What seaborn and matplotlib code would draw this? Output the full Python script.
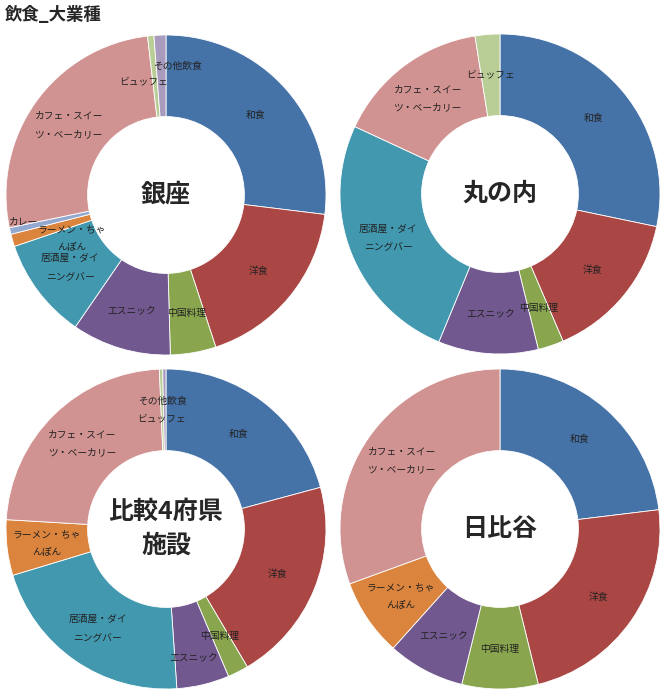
import matplotlib
matplotlib.use("Agg")
import matplotlib.pyplot as plt
import seaborn as sns

sns.set_theme(style="white")
plt.rcParams['font.family'] = ['Noto Sans CJK JP', 'DejaVu Sans']

# categories, clockwise from 12 o'clock
categories = ['和食', '洋食', '中国料理', 'エスニック', '居酒屋・ダイ\nニングバー',
              'ラーメン・ちゃ\nんぽん', 'カレー', 'カフェ・スイー\nツ・ベーカリー',
              'ビュッフェ', 'その他飲食']
colors = ['#4572A7', '#AA4643', '#89A54E', '#71588F', '#4198AF',
          '#DB843D', '#93A9CF', '#D19392', '#B9CD96', '#A99BBD']

# shares (%)
ginza = [26.9, 18.0, 4.6, 10.0, 10.2, 1.25, 0.67, 26.4, 0.64, 1.2]
marunouchi = [28.3, 15.3, 2.6, 10.1, 25.7, 0, 0, 15.6, 2.5, 0]
hikaku = [20.8, 20.7, 2.1, 5.3, 21.4, 5.6, 0, 23.4, 0.33, 0.33]
hibiya = [23.1, 23.1, 7.7, 7.8, 0, 7.8, 0, 30.6, 0, 0]

areas = ['銀座', '丸の内', '比較4府県\n施設', '日比谷']
series = [ginza, marunouchi, hikaku, hibiya]

# labels of thin slices are nudged apart, like the original
nudges = [
    {'ビュッフェ': (-0.14, 0.71), 'その他飲食': (0.07, 0.81), 'カレー': (-0.89, -0.17),
     'ラーメン・ちゃ\nんぽん': (-0.59, -0.27), '居酒屋・ダイ\nニングバー': (-0.6, -0.45)},
    {},
    {'ビュッフェ': (-0.03, 0.69), 'その他飲食': (-0.02, 0.8), 'エスニック': (0.17, -0.8)},
    {},
]

W, H = 669, 700
fig = plt.figure(figsize=(W / 100, H / 100), dpi=100)
fig.patch.set_facecolor('white')

# donut centres in pixels (x, y from top) and radius
centres = [(166, 195), (500, 194), (166, 529), (500, 529)]
R = 160

for name, vals, (cx, cy), nudge in zip(areas, series, centres, nudges):
    ax = fig.add_axes([(cx - R) / W, (H - cy - R) / H, 2 * R / W, 2 * R / H])
    keep = [i for i, v in enumerate(vals) if v > 0]
    wedges, texts = ax.pie([vals[i] for i in keep],
                           labels=[categories[i] for i in keep],
                           colors=[colors[i] for i in keep],
                           startangle=90, counterclock=False, radius=1,
                           labeldistance=0.75,
                           wedgeprops=dict(width=0.51, edgecolor='white', linewidth=0.6),
                           textprops=dict(fontsize=7, color='#222222'))
    for t in texts:
        t.set_ha('center')
        t.set_va('center')
        t.set_linespacing(2.0)
        if t.get_text() in nudge:
            t.set_position(nudge[t.get_text()])
    ax.text(0, 0, name, ha='center', va='center', fontsize=18,
            fontweight='bold', linespacing=1.5)
    ax.set_xlim(-1, 1)
    ax.set_ylim(-1, 1)
    ax.set_aspect('equal')
    ax.axis('off')

fig.text(5 / W, 1 - 15 / H, '飲食_大業種', ha='left', va='center',
         fontsize=12.5, fontweight='bold')

fig.savefig('out.png', dpi=100, facecolor='white')
